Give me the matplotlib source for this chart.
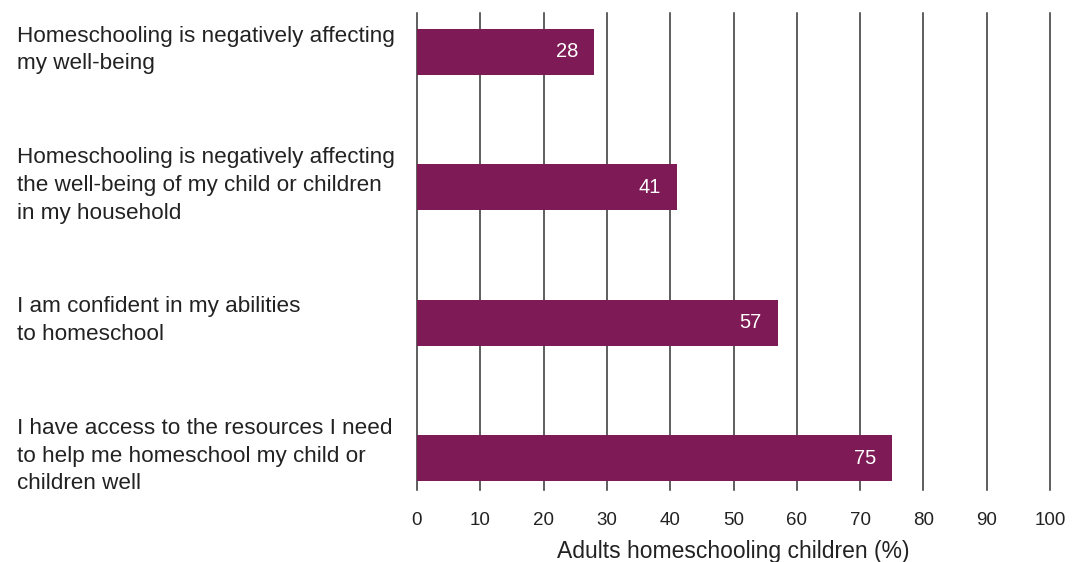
import matplotlib
matplotlib.use("Agg")
from matplotlib import pyplot as plt

plt.rcParams['font.family'] = ['Liberation Sans', 'DejaVu Sans']

labels = ["Homeschooling is negatively affecting\nmy well-being",
          "Homeschooling is negatively affecting\nthe well-being of my child or children\nin my household",
          "I am confident in my abilities\nto homeschool",
          "I have access to the resources I need\nto help me homeschool my child or\nchildren well"]
values = [28, 41, 57, 75]
ticks = [0, 10, 20, 30, 40, 50, 60, 70, 80, 90, 100]

bar_color = '#7e1a55'
text_color = '#222222'

fig = plt.figure(figsize=(10.82, 5.62), dpi=100)
ax = fig.add_axes([417/1082, 1-490/562, (1050-417)/1082, (490-13)/562])

pos = list(range(len(values)))
ax.barh(pos, values, height=0.34, color=bar_color, zorder=3)
for p, v in zip(pos, values):
    ax.text(v - 2.5, p, str(v), color='white', fontsize=14.5, ha='right', va='center', zorder=4)

ax.set_xlim(0, 100)
ax.set_ylim(3.236, -0.288)
ax.set_xticks(ticks)
ax.set_xticklabels([str(t) for t in ticks], fontsize=13.5, color=text_color)
ax.tick_params(axis='x', length=0, pad=16)
ax.set_yticks(pos)
ax.set_yticklabels([])
ax.tick_params(axis='y', length=0)
for t in ticks:
    ax.axvline(t, color='#333333', linewidth=1.1, zorder=1, clip_on=False)
for s in ax.spines.values():
    s.set_visible(False)

# category labels in figure coords, left aligned
fig.canvas.draw()
for p, lab in zip(pos, labels):
    y_fig = ax.transData.transform((0, p))[1] / (fig.dpi * 5.62)
    fig.text(17/1082, y_fig + 2/562, lab, ha='left', va='center', fontsize=16.2,
             color=text_color, linespacing=1.42)

ax.set_xlabel("Adults homeschooling children (%)", fontsize=16.5, color=text_color, labelpad=8)

fig.savefig("out.png", dpi=100)
